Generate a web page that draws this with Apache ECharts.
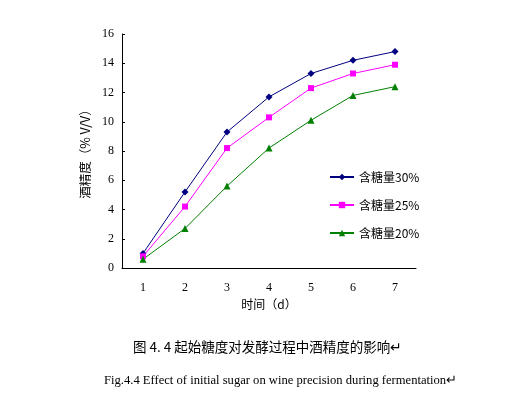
<!DOCTYPE html>
<html>
<head>
<meta charset="utf-8">
<script src="https://cdn.jsdelivr.net/npm/echarts@6/dist/echarts.min.js"></script>
<style>
  html, body { margin: 0; padding: 0; background: #fff; }
</style>
</head>
<body>
<div id="main" style="width:524px; height:399px; background-color: white;"></div>
<script>
// data
const days = ['1', '2', '3', '4', '5', '6', '7']
const sugar30 = [1.0, 5.2, 9.3, 11.7, 13.3, 14.2, 14.8]
const sugar25 = [0.8, 4.2, 8.2, 10.3, 12.3, 13.3, 13.9]
const sugar20 = [0.6, 2.7, 5.6, 8.2, 10.1, 11.8, 12.4]
const seriesNames = ['含糖量30%', '含糖量25%', '含糖量20%']

const serif = '"Liberation Serif", "Noto Sans CJK SC", serif'
const cjk = '"Noto Sans CJK SC", sans-serif'

const my_echart = echarts.init(document.getElementById('main'), null, {renderer: 'canvas'})

function line(name, data, color, symbol, size) {
  return {
    name: name,
    type: 'line',
    data: data,
    symbol: symbol,
    symbolSize: size,
    showSymbol: true,
    lineStyle: { color: color, width: 1 },
    itemStyle: { color: color },
    emphasis: { disabled: true }
  }
}

my_echart.setOption({
  animation: false,
  title: [
    {
      text: '图 4. 4 起始糖度对发酵过程中酒精度的影响↵',
      left: 128,
      top: 335,
      textStyle: { fontFamily: cjk, fontSize: 13.5, fontWeight: 'normal', color: '#000' }
    },
    {
      text: 'Fig.4.4 Effect of initial sugar on wine precision during fermentation↵',
      left: 99,
      top: 369,
      textStyle: { fontFamily: serif, fontSize: 12.6, fontWeight: 'normal', color: '#000' }
    }
  ],
  grid: { left: 122, right: 108, top: 34, bottom: 131 },
  legend: {
    orient: 'vertical',
    left: 324,
    top: 166,
    itemGap: 16,
    itemWidth: 24,
    itemHeight: 8,
    data: seriesNames,
    textStyle: { fontFamily: cjk, fontSize: 12, color: '#000' }
  },
  xAxis: {
    type: 'category',
    data: days,
    boundaryGap: true,
    name: '时间（d）',
    nameLocation: 'middle',
    nameGap: 30,
    nameTextStyle: { fontFamily: cjk, fontSize: 12, color: '#000' },
    axisLine: { lineStyle: { color: '#000', width: 1 } },
    axisTick: { inside: true, length: 3, lineStyle: { color: '#000' } },
    axisLabel: { fontFamily: serif, fontSize: 12, color: '#000', margin: 14 },
    splitLine: { show: false }
  },
  yAxis: {
    type: 'value',
    min: 0,
    max: 16,
    interval: 2,
    name: '酒精度（% V/V）',
    nameLocation: 'middle',
    nameGap: 24,
    nameRotate: 90,
    nameTextStyle: { fontFamily: cjk, fontSize: 12.5, color: '#000' },
    axisLine: { show: true, lineStyle: { color: '#000', width: 1 } },
    axisTick: { show: true, inside: true, length: 3, lineStyle: { color: '#000' } },
    axisLabel: { fontFamily: serif, fontSize: 12, color: '#000', margin: 8 },
    splitLine: { show: false }
  },
  series: [
    line(seriesNames[0], sugar30, '#000080', 'diamond', 7),
    line(seriesNames[1], sugar25, '#ff00ff', 'rect', 6),
    line(seriesNames[2], sugar20, '#008000', 'triangle', 7)
  ]
})
</script>
</body>
</html>
